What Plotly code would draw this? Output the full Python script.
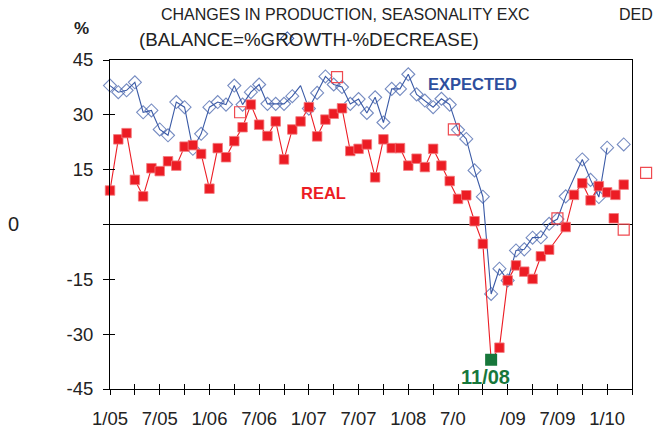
import plotly.graph_objects as go

# ---- data (month index: 0 = Jan 2005) ----
expected_months = list(range(0, 56)) + [57, 58, 59, 60, 61, 62]
expected_values = [38.0, 36.2, 36.7, 38.9, 30.7, 31.2, 26.0, 24.4, 33.5, 32.1,
                   20.7, 24.8, 32.1, 33.5, 32.8, 38.0, 32.8, 36.2, 38.3, 33.0,
                   33.0, 33.0, 35.1, 38.0, 31.7, 36.0, 40.5, 38.3, 37.6, 33.0,
                   34.3, 30.5, 34.8, 27.9, 37.1, 37.1, 41.1, 35.6, 33.9, 32.1,
                   34.4, 32.8, 25.9, 23.4, 14.8, 7.6, -19.0, -12.1, -15.3, -7.1,
                   -6.8, -3.6, -3.5, 0.2, 1.5, 7.7, 17.8, 12.2, 7.5, 21.0,
                   None, 21.9]
expected_hidden_month = 23          # point drawn without a marker

real_months = list(range(0, 54)) + list(range(55, 63))
real_values = [9.3, 23.3, 25.0, 12.2, 7.7, 15.4, 14.6, 17.3, 16.1, 21.3,
               21.7, 19.3, 9.8, 20.9, 18.4, 22.8, 26.6, 32.8, 27.3, 24.2,
               28.2, 17.8, 26.0, 28.2, 32.1, 24.1, 28.7, 30.3, 31.8, 20.1,
               20.7, 21.9, 12.9, 23.3, 20.9, 20.9, 16.1, 18.0, 15.7, 20.7,
               16.1, 11.9, 7.0, 8.0, 0.9, -5.3, -37.0, -33.7, -15.3, -11.2,
               -12.9, -14.9, -8.7, -6.9, -0.7, 8.1, 11.3, 6.6, 10.5, 8.8,
               8.1, 10.9]

hollow_months = [15.7, 27.4, 41.5, 54.0, 62.0, 64.7]
hollow_values = [30.7, 40.3, 26.0, 1.7, -1.4, 14.1]

extra_real_month = [60.8]
extra_real_value = [1.7]

stray_diamond_month = [21.4]
stray_diamond_value = [50.9]

trough_month = [46]
trough_value = [-37.0]
trough_label = "11/08"

x_range = [0, 63]
y_range = [-45, 45]
x_tick_vals = list(range(0, 64, 3))
x_tick_text = ["1/05", "", "7/05", "", "1/06", "", "7/06", "", "1/07", "",
               "7/07", "", "1/08", "", "7/0\u00a0\u00a0", "", "\u00a0\u00a0/09", "",
               "7/09", "", "1/10", ""]
y_tick_vals = [-45, -30, -15, 0, 15, 30, 45]
y_tick_text = ["-45", "-30", "-15", "", "15", "30", "45"]

# ---- layout geometry (pixels) ----
W, H = 653, 430
PL, PR, PT, PB = 110, 632, 60, 389

BLUE = "#3a5aa6"
RED = "#ec1c24"
GREEN = "#17773b"
TXT = "#222222"
FONT = "Liberation Sans, Arial, sans-serif"

# full-figure helper axis so that off-range marks can be drawn
mpp = (x_range[1] - x_range[0]) / (PR - PL)
upp = (y_range[1] - y_range[0]) / (PB - PT)
x3_range = [x_range[0] - PL * mpp, x_range[1] + (W - PR) * mpp]
y3_range = [y_range[0] - (H - PB) * upp, y_range[1] + PT * upp]

fig = go.Figure()

exp_sizes = [0 if m == expected_hidden_month else 10 for m in expected_months]
fig.add_trace(go.Scatter(
    x=expected_months, y=expected_values, mode="lines+markers",
    line=dict(color=BLUE, width=1.1),
    marker=dict(symbol="diamond-open", size=exp_sizes, color=BLUE,
                line=dict(width=1.1)),
    connectgaps=False, showlegend=False, cliponaxis=False))

fig.add_trace(go.Scatter(
    x=real_months, y=real_values, mode="lines+markers",
    line=dict(color=RED, width=1.1),
    marker=dict(symbol="square", size=9.5, color=RED,
                line=dict(color="#f37a7e", width=0.8)),
    showlegend=False, cliponaxis=False))

fig.add_trace(go.Scatter(
    x=extra_real_month, y=extra_real_value, mode="markers",
    marker=dict(symbol="square", size=9.5, color=RED,
                line=dict(color="#f37a7e", width=0.8)),
    showlegend=False, cliponaxis=False))

fig.add_trace(go.Scatter(
    x=trough_month, y=trough_value, mode="markers",
    marker=dict(symbol="square", size=12, color=GREEN),
    showlegend=False, cliponaxis=False))

# dummy trace for the overlay axes (inner halves of the crossing ticks)
fig.add_trace(go.Scatter(x=[None], y=[None], xaxis="x2", yaxis="y2",
                         showlegend=False, hoverinfo="skip"))

# marks that lie partly outside the plotting box
fig.add_trace(go.Scatter(
    x=hollow_months, y=hollow_values, mode="markers", xaxis="x3", yaxis="y3",
    marker=dict(symbol="square-open", size=11, color="#ef4a50",
                line=dict(width=1.2)),
    showlegend=False, cliponaxis=False))
fig.add_trace(go.Scatter(
    x=stray_diamond_month, y=stray_diamond_value, mode="markers",
    xaxis="x3", yaxis="y3",
    marker=dict(symbol="diamond-open", size=10, color=BLUE, line=dict(width=1.1)),
    showlegend=False, cliponaxis=False))

axis_common = dict(showgrid=False, color="black", linecolor="black",
                   linewidth=1, tickcolor="black", tickwidth=1,
                   automargin=False)
xdom = [PL / W, PR / W]
ydom = [1 - PB / H, 1 - PT / H]

fig.update_layout(
    width=W, height=H, autosize=False,
    margin=dict(l=0, r=0, t=0, b=0, pad=0, autoexpand=False),
    paper_bgcolor="white", plot_bgcolor="rgba(0,0,0,0)",
    font=dict(family=FONT, color=TXT, size=18),
    xaxis=dict(domain=xdom, range=x_range, tickmode="array",
               tickvals=x_tick_vals, ticktext=x_tick_text, ticks="outside",
               ticklen=5, showline=True, mirror=True, zeroline=False,
               tickfont=dict(size=18.5, color=TXT),
               ticklabelstandoff=8, **axis_common),
    yaxis=dict(domain=ydom, range=y_range, tickmode="array",
               tickvals=y_tick_vals, ticktext=y_tick_text, ticks="outside",
               ticklen=6, showline=True, mirror=True, zeroline=True,
               zerolinecolor="black", zerolinewidth=1,
               tickfont=dict(size=18.5, color=TXT),
               ticklabelstandoff=6, **axis_common),
    xaxis2=dict(range=x_range, overlaying="x", anchor="y", tickmode="array",
                tickvals=x_tick_vals, ticks="inside", ticklen=5,
                showticklabels=False, showline=False, zeroline=False,
                showgrid=False, tickcolor="black", tickwidth=1,
                automargin=False),
    yaxis2=dict(range=y_range, overlaying="y", anchor="x", side="left",
                tickmode="array", tickvals=y_tick_vals, ticks="inside",
                ticklen=5, showticklabels=False, showline=False,
                zeroline=False, showgrid=False, tickcolor="black", tickwidth=1,
                automargin=False),
    xaxis3=dict(domain=[0, 1], range=x3_range, anchor="y3", visible=False,
                automargin=False),
    yaxis3=dict(domain=[0, 1], range=y3_range, anchor="x3", visible=False,
                automargin=False),
)


def px(xp):
    return xp / W


def py(yp):
    return 1 - yp / H


ann = []
ann.append(dict(text="CHANGES IN PRODUCTION, SEASONALITY EXC", xref="paper",
                yref="paper", x=px(159), y=py(15), xanchor="left",
                yanchor="middle", showarrow=False,
                font=dict(size=16, color=TXT, family=FONT)))
ann.append(dict(text="DED", xref="paper", yref="paper", x=px(617), y=py(15),
                xanchor="left", yanchor="middle", showarrow=False,
                font=dict(size=16, color=TXT, family=FONT)))
ann.append(dict(text="(BALANCE=%GROWTH-%DECREASE)", xref="paper", yref="paper",
                x=px(137), y=py(40), xanchor="left", yanchor="middle",
                showarrow=False, font=dict(size=18.8, color=TXT, family=FONT)))
ann.append(dict(text="<b>%</b>", xref="paper", yref="paper", x=px(82),
                y=py(28), xanchor="center", yanchor="middle", showarrow=False,
                font=dict(size=17, color=TXT, family=FONT)))
ann.append(dict(text="0", xref="paper", yref="paper", x=px(13), y=py(224),
                xanchor="center", yanchor="middle", showarrow=False,
                font=dict(size=20, color=TXT, family=FONT)))
ann.append(dict(text="<b>EXPECTED</b>", x=43.75, y=38.3, xref="x", yref="y",
                showarrow=False, font=dict(size=16.5, color="#2e4f9e", family=FONT)))
ann.append(dict(text="<b>REAL</b>", x=25.8, y=8.5, xref="x", yref="y",
                showarrow=False, font=dict(size=16.5, color=RED, family=FONT)))
ann.append(dict(text="<b>" + trough_label + "</b>", x=45.3, y=-41.6, xref="x",
                yref="y", showarrow=False,
                font=dict(size=20, color=GREEN, family=FONT)))
fig.update_layout(annotations=ann)

fig.write_html("out.html",
               config={"responsive": False, "displayModeBar": False},
               post_script="document.documentElement.style.margin='0';"
                           "document.body.style.margin='0';"
                           "document.body.style.padding='0';"
                           "document.body.style.overflow='hidden';")
